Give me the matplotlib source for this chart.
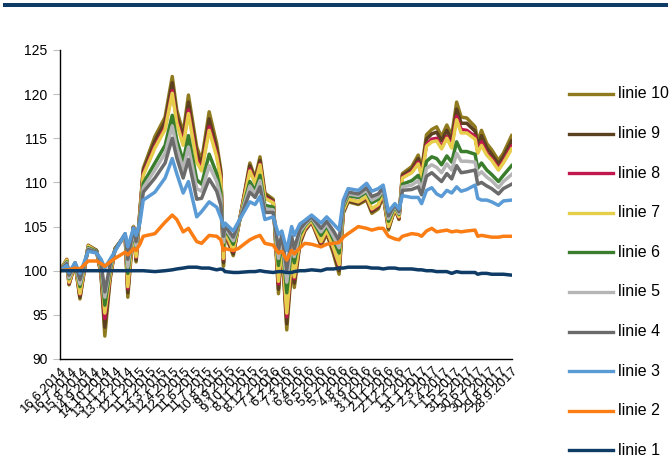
import matplotlib
matplotlib.use("Agg")
import matplotlib.pyplot as plt
from matplotlib.lines import Line2D
from matplotlib.patches import Rectangle
import pandas as pd

plt.rcParams['font.family'] = ['Liberation Sans', 'DejaVu Sans']

start_date = "2014-06-16"
days = [0, 18, 24, 40, 53, 75, 97, 109, 119, 133, 146, 173, 180, 195, 202, 212, 221, 252, 279, 298,
        310, 327, 341, 363, 376, 396, 416, 427, 434, 438, 460, 473, 504, 518, 531, 544, 566, 580, 589, 602,
        615, 622, 637, 650, 668, 693, 708, 726, 741, 752, 765, 792, 814, 828, 845, 858, 872, 889, 900, 909,
        934, 951, 960, 973, 987, 1000, 1013, 1027, 1040, 1053, 1065, 1080, 1102, 1109, 1119, 1133, 1146, 1164, 1177, 1199]

linie1 = [100.0, 100.0, 100.0, 100.0, 100.0, 100.0, 100.0, 100.0, 100.0, 100.0, 100.0, 100.0, 100.0, 100.0, 100.0, 100.0, 100.0, 99.9, 100.0, 100.1,
          100.2, 100.3, 100.4, 100.4, 100.3, 100.3, 100.1, 100.2, 100.1, 99.9, 99.8, 99.8, 99.9, 99.9, 100.0, 99.9, 99.8, 99.9, 99.9, 99.8,
          99.8, 99.9, 100.0, 100.0, 100.1, 100.0, 100.2, 100.2, 100.3, 100.3, 100.4, 100.4, 100.4, 100.3, 100.3, 100.2, 100.3, 100.3, 100.2, 100.2,
          100.2, 100.1, 100.1, 100.0, 100.0, 99.9, 99.9, 99.9, 99.7, 99.9, 99.8, 99.8, 99.8, 99.6, 99.7, 99.7, 99.6, 99.6, 99.6, 99.5]
linie2 = [100.0, 100.1, 100.1, 100.3, 100.2, 101.1, 101.1, 100.8, 100.5, 101.0, 101.4, 102.1, 101.8, 102.5, 102.3, 103.0, 103.9, 104.2, 105.5, 106.3,
          105.8, 104.4, 104.8, 103.3, 103.1, 104.0, 103.9, 103.5, 102.3, 102.5, 102.3, 102.5, 103.5, 103.8, 104.0, 103.1, 102.9, 102.0, 102.2, 101.2,
          102.3, 101.9, 102.6, 103.1, 103.0, 102.7, 103.0, 103.1, 103.2, 103.8, 104.2, 105.0, 104.8, 104.6, 104.8, 104.8, 103.9, 103.6, 103.5, 103.9,
          104.2, 104.1, 103.9, 104.5, 104.8, 104.4, 104.5, 104.6, 104.4, 104.5, 104.4, 104.5, 104.6, 103.9, 104.0, 103.9, 103.8, 103.8, 103.9, 103.9]
linie3 = [100.0, 100.6, 99.8, 100.9, 99.7, 102.2, 102.0, 101.3, 100.3, 101.3, 102.2, 104.2, 102.7, 104.8, 104.0, 105.4, 108.0, 108.9, 110.5, 112.7,
          111.0, 108.8, 110.1, 106.1, 106.7, 107.8, 107.2, 106.0, 105.0, 105.4, 104.5, 105.5, 107.8, 107.5, 108.4, 105.8, 106.1, 104.1, 104.5, 102.3,
          105.0, 104.0, 105.3, 105.7, 106.3, 105.4, 106.1, 105.3, 104.6, 108.0, 109.3, 109.1, 109.9, 109.0, 109.3, 109.7, 106.7, 107.6, 107.0, 108.5,
          108.3, 108.3, 107.6, 109.1, 109.4, 108.7, 108.4, 109.1, 108.8, 109.5, 109.0, 109.2, 109.7, 108.2, 108.0, 108.0, 107.8, 107.4, 107.9, 108.0]
linie4 = [100.0, 100.8, 99.5, 100.9, 99.0, 102.4, 102.1, 100.9, 97.6, 100.7, 102.3, 104.2, 101.3, 104.9, 103.3, 105.7, 108.9, 110.5, 112.2, 115.0,
          112.8, 110.5, 112.6, 108.1, 108.2, 110.4, 109.0, 107.4, 103.9, 105.1, 103.8, 105.3, 108.9, 108.3, 109.5, 106.6, 106.6, 102.4, 104.1, 100.1,
          103.9, 102.5, 104.7, 105.4, 106.1, 104.8, 105.6, 104.5, 103.4, 107.6, 108.9, 108.7, 109.4, 108.4, 108.7, 109.4, 106.2, 107.5, 106.7, 109.1,
          109.2, 109.5, 108.6, 110.7, 111.1, 110.6, 110.1, 111.0, 110.4, 111.9, 111.1, 111.2, 111.4, 109.8, 110.0, 109.6, 109.3, 108.7, 109.3, 109.8]
linie5 = [100.0, 100.9, 99.2, 100.9, 98.5, 102.5, 102.1, 100.6, 97.0, 100.4, 102.3, 104.1, 100.4, 104.9, 102.8, 105.9, 109.4, 111.4, 113.3, 116.4,
          113.9, 111.5, 114.0, 109.3, 109.0, 111.9, 110.1, 108.2, 103.2, 104.9, 103.4, 105.2, 109.6, 108.7, 110.2, 107.0, 106.9, 101.4, 103.8, 98.7,
          103.2, 101.6, 104.4, 105.2, 106.0, 104.4, 105.3, 103.9, 102.6, 107.4, 108.7, 108.5, 109.1, 108.0, 108.4, 109.2, 105.9, 107.4, 106.5, 109.5,
          109.7, 110.2, 109.2, 111.6, 112.0, 111.7, 111.1, 112.1, 111.4, 113.3, 112.4, 112.4, 112.3, 110.8, 111.2, 110.6, 110.2, 109.4, 110.1, 110.9]
linie6 = [100.0, 101.0, 99.1, 100.9, 98.2, 102.6, 102.2, 100.3, 96.1, 100.1, 102.4, 104.1, 99.7, 104.9, 102.4, 106.1, 109.9, 112.2, 114.2, 117.6,
          114.8, 112.4, 115.3, 110.3, 109.8, 113.2, 111.0, 108.9, 102.6, 104.8, 103.0, 105.1, 110.1, 109.1, 110.8, 107.4, 107.2, 100.6, 103.6, 97.5,
          102.6, 100.9, 104.1, 105.1, 105.9, 104.0, 105.1, 103.5, 102.0, 107.2, 108.5, 108.3, 108.9, 107.7, 108.1, 109.1, 105.6, 107.3, 106.4, 109.8,
          110.2, 110.8, 109.7, 112.4, 112.9, 112.7, 112.0, 113.0, 112.3, 114.6, 113.5, 113.5, 113.2, 111.6, 112.2, 111.4, 110.9, 110.1, 110.8, 111.9]
linie7 = [100.0, 101.2, 98.7, 100.8, 97.4, 102.8, 102.2, 99.9, 95.2, 99.5, 102.4, 104.0, 98.2, 105.0, 101.6, 106.4, 110.8, 113.9, 116.0, 120.1,
          116.7, 114.2, 117.8, 112.3, 111.3, 115.9, 112.9, 110.3, 101.4, 104.5, 102.3, 104.9, 111.3, 109.9, 112.0, 108.2, 107.7, 98.8, 103.2, 95.2,
          101.4, 99.3, 103.5, 104.8, 105.7, 103.3, 104.6, 102.6, 100.7, 106.8, 108.1, 107.8, 108.4, 107.0, 107.5, 108.8, 105.0, 107.1, 106.1, 110.5,
          111.1, 112.1, 110.7, 114.1, 114.6, 114.7, 113.8, 115.0, 113.9, 117.1, 115.6, 115.6, 114.9, 113.3, 114.2, 113.1, 112.5, 111.4, 112.2, 113.8]
linie8 = [100.0, 101.2, 98.6, 100.8, 97.3, 102.8, 102.2, 99.8, 94.6, 99.4, 102.4, 104.0, 98.0, 105.0, 101.5, 106.5, 111.0, 114.1, 116.2, 120.4,
          117.0, 114.4, 118.2, 112.7, 111.5, 116.3, 113.2, 110.5, 101.3, 104.4, 102.2, 104.9, 111.5, 110.0, 112.1, 108.3, 107.8, 98.5, 103.1, 94.8,
          101.2, 99.1, 103.4, 104.7, 105.6, 103.2, 104.5, 102.5, 100.5, 106.8, 108.1, 107.8, 108.3, 106.9, 107.4, 108.7, 105.0, 107.1, 106.0, 110.6,
          111.2, 112.3, 110.8, 114.3, 114.9, 115.0, 114.0, 115.2, 114.2, 117.5, 116.0, 115.9, 115.2, 113.5, 114.6, 113.3, 112.7, 111.6, 112.4, 114.1]
linie9 = [100.0, 101.2, 98.5, 100.8, 97.0, 102.8, 102.3, 99.6, 93.6, 99.2, 102.5, 104.0, 97.5, 105.0, 101.2, 106.6, 111.3, 114.7, 116.9, 121.3,
          117.6, 115.1, 119.1, 113.4, 112.0, 117.2, 113.8, 111.0, 100.9, 104.3, 101.9, 104.9, 111.9, 110.3, 112.5, 108.6, 107.9, 97.9, 102.9, 94.0,
          100.8, 98.6, 103.2, 104.6, 105.6, 103.0, 104.4, 102.2, 100.0, 106.6, 107.9, 107.6, 108.2, 106.7, 107.2, 108.6, 104.8, 107.0, 105.9, 110.8,
          111.5, 112.7, 111.2, 114.9, 115.5, 115.7, 114.7, 115.9, 114.8, 118.3, 116.7, 116.7, 115.8, 114.1, 115.3, 113.9, 113.2, 112.1, 112.9, 114.7]
linie10 = [100.0, 101.3, 98.4, 100.8, 96.8, 102.9, 102.3, 99.5, 92.6, 99.0, 102.5, 104.0, 97.0, 105.0, 101.0, 106.7, 111.6, 115.2, 117.4, 122.0,
           118.2, 115.6, 119.9, 114.0, 112.5, 118.0, 114.4, 111.4, 100.5, 104.2, 101.7, 104.8, 112.2, 110.5, 112.9, 108.8, 108.1, 97.4, 102.8, 93.3,
           100.4, 98.1, 103.0, 104.5, 105.5, 102.8, 104.2, 101.9, 99.6, 106.5, 107.8, 107.5, 108.0, 106.5, 107.0, 108.5, 104.6, 107.0, 105.8, 111.0,
           111.8, 113.1, 111.5, 115.4, 116.0, 116.3, 115.2, 116.5, 115.3, 119.1, 117.4, 117.3, 116.3, 114.6, 115.9, 114.4, 113.7, 112.5, 113.3, 115.3]

series_labels = ["linie 1", "linie 2", "linie 3", "linie 4", "linie 5",
                 "linie 6", "linie 7", "linie 8", "linie 9", "linie 10"]
series_values = [linie1, linie2, linie3, linie4, linie5, linie6, linie7, linie8, linie9, linie10]
colors = ["#0f3c66", "#fb7d14", "#5b9bd5", "#6b6b6b", "#b5b5b5",
          "#3a7d2c", "#e6cd4a", "#c0174f", "#5c4121", "#8f7a1f"]

y_ticks = [90, 95, 100, 105, 110, 115, 120, 125]

t0 = pd.Timestamp(start_date)
dates = [t0 + pd.Timedelta(days=d) for d in days]
tick_dates = pd.date_range(start_date, periods=41, freq="30D")
tick_labels = [f"{d.day}.{d.month}.{d.year}" for d in tick_dates]

W, H = 671, 457
fig = plt.figure(figsize=(W / 100, H / 100), dpi=100)
ax = fig.add_axes([60 / W, 1 - 359 / H, (512 - 60) / W, (359 - 50) / H])

n = len(series_values)
for i in range(n - 1, -1, -1):
    ax.plot(dates, series_values[i], color=colors[i], lw=2.5,
            solid_joinstyle="round", zorder=2 + (n - i))

ax.set_ylim(90, 125)
ax.set_yticks(y_ticks)
ax.set_xlim(t0, tick_dates[-1])
ax.set_xticks(tick_dates)
ax.set_xticklabels(tick_labels, rotation=45, ha="right", rotation_mode="anchor", fontsize=9.5)
ax.tick_params(axis="x", length=0, pad=4)
ax.tick_params(axis="y", length=5, color="#bfbfbf", labelsize=10, pad=4)
for s in ["top", "right"]:
    ax.spines[s].set_visible(False)
for s in ["left", "bottom"]:
    ax.spines[s].set_color("black")
    ax.spines[s].set_linewidth(1.0)
    ax.spines[s].set_zorder(20)

# legend (linie 10 at top)
for j, i in enumerate(range(n - 1, -1, -1)):
    yy = 1 - (94 + j * 39.6) / H
    fig.add_artist(Line2D([569 / W, 613 / W], [yy, yy], color=colors[i], lw=2.4,
                          transform=fig.transFigure))
    fig.text(618 / W, yy, series_labels[i], fontsize=11.5, va="center", ha="left")

# top rule
fig.add_artist(Rectangle((3 / W, 1 - 6.7 / H), (668 - 3) / W, 3.6 / H,
                         transform=fig.transFigure, color="#0f3c66", lw=0))

fig.savefig("out.png", dpi=100)
